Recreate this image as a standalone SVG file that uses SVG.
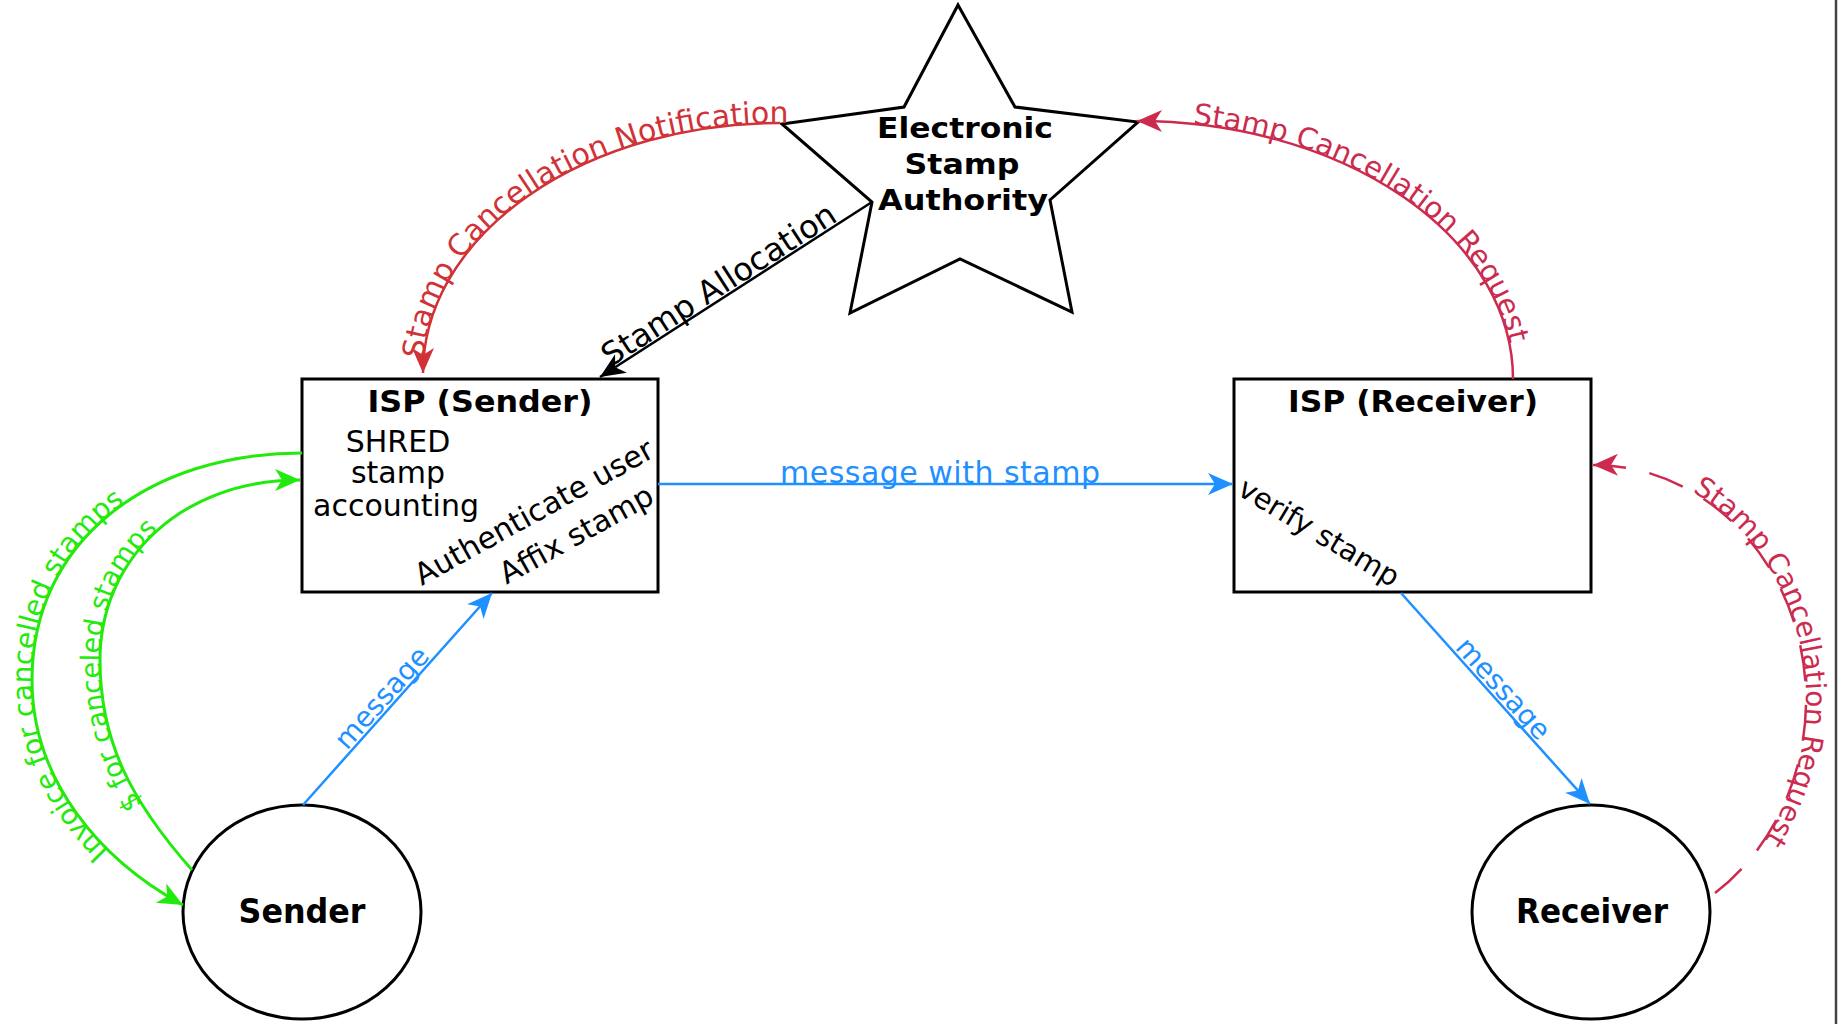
<svg xmlns="http://www.w3.org/2000/svg" width="1843" height="1024" viewBox="0 0 1843 1024">
<style>
.node{fill:#fff;stroke:#000;stroke-width:3}
.bold{font-family:"DejaVu Sans","Liberation Sans",sans-serif;font-weight:bold;fill:#000}
.reg{font-family:"DejaVu Sans","Liberation Sans",sans-serif;fill:#000}
.conn{fill:none;stroke-width:2.5}
.blue{stroke:#1E90FF}
.blk{stroke:#000}
.red1{stroke:#D03238}
.red2{stroke:#CC2B4E}
.grn{stroke:#22EA0C;stroke-width:3}
.tblue{fill:#1E90FF}
.tred1{fill:#D03238}
.tred2{fill:#CC2B4E}
.tgrn{fill:#22EA0C}
</style>
<defs>
<marker id="aBlue" markerUnits="userSpaceOnUse" orient="auto" markerWidth="1" markerHeight="1" refX="0" refY="0" overflow="visible"><path d="M0,0 L-25,-11 L-18,0 L-25,11 Z" fill="#1E90FF"/></marker>
<marker id="aBlk" markerUnits="userSpaceOnUse" orient="auto" markerWidth="1" markerHeight="1" refX="0" refY="0" overflow="visible"><path d="M0,0 L-25,-11 L-18,0 L-25,11 Z" fill="#000"/></marker>
<marker id="aRed1" markerUnits="userSpaceOnUse" orient="auto" markerWidth="1" markerHeight="1" refX="0" refY="0" overflow="visible"><path d="M0,0 L-25,-11 L-18,0 L-25,11 Z" fill="#D03238"/></marker>
<marker id="aRed2" markerUnits="userSpaceOnUse" orient="auto" markerWidth="1" markerHeight="1" refX="0" refY="0" overflow="visible"><path d="M0,0 L-25,-11 L-18,0 L-25,11 Z" fill="#CC2B4E"/></marker>
<marker id="aGrn" markerUnits="userSpaceOnUse" orient="auto" markerWidth="1" markerHeight="1" refX="0" refY="0" overflow="visible"><path d="M0,0 L-25,-11 L-18,0 L-25,11 Z" fill="#22EA0C"/></marker>
<path id="tpNotif" d="M423,373 A357,250 0 0 1 780,123"/>
<path id="tpReqTop" d="M1137,121 A376,258 0 0 1 1513,379"/>
<path id="tpReqRight" d="M1593,465 A212,235 0 0 1 1715,893"/>
<path id="tpInvoice" d="M183,905 C100,860 32,780 32,680 C32,540 150,453 302,453"/>
<path id="tpDollar" d="M192,870 C130,800 100,740 100,660 C100,560 180,480 300,480"/>
</defs>
<rect width="1843" height="1024" fill="#fff"/>
<line x1="1836" y1="0" x2="1836" y2="1024" stroke="#444" stroke-width="2.5"/>

<g id="esa">
<polygon class="node" stroke-width="2.5" points="958,5 1015,107 1138,122 1050,200 1072,312 960,259 850,313 872,202 782,124 904,107"/>
<text class="bold" font-size="29" text-anchor="middle" x="965" y="138" textLength="176" lengthAdjust="spacingAndGlyphs">Electronic</text>
<text class="bold" font-size="29" text-anchor="middle" x="962" y="174" textLength="115" lengthAdjust="spacingAndGlyphs">Stamp</text>
<text class="bold" font-size="29" text-anchor="middle" x="963" y="210" textLength="170" lengthAdjust="spacingAndGlyphs">Authority</text>
</g>

<g id="isp-sender">
<rect class="node" x="302" y="379" width="356" height="213"/>
<text class="bold" font-size="31" text-anchor="middle" x="480" y="412" textLength="225" lengthAdjust="spacingAndGlyphs">ISP (Sender)</text>
<text class="reg" font-size="30" text-anchor="middle" x="398" y="452">SHRED</text>
<text class="reg" font-size="30" text-anchor="middle" x="398" y="483">stamp</text>
<text class="reg" font-size="30" text-anchor="middle" x="396" y="516">accounting</text>
<text class="reg" font-size="30" text-anchor="end" transform="translate(656,456) rotate(-29)">Authenticate user</text>
<text class="reg" font-size="30" text-anchor="end" transform="translate(656,502) rotate(-29)">Affix stamp</text>
</g>

<g id="isp-receiver">
<rect class="node" x="1234" y="379" width="357" height="213"/>
<text class="bold" font-size="31" text-anchor="middle" x="1413" y="412" textLength="250" lengthAdjust="spacingAndGlyphs">ISP (Receiver)</text>
<text class="reg" font-size="29" transform="translate(1236,494) rotate(31)">verify stamp</text>
</g>

<g id="sender">
<ellipse class="node" cx="302" cy="912" rx="119" ry="107"/>
<text class="bold" font-size="33" text-anchor="middle" x="302" y="923" textLength="127" lengthAdjust="spacingAndGlyphs">Sender</text>
</g>

<g id="receiver">
<ellipse class="node" cx="1591" cy="912" rx="119" ry="107"/>
<text class="bold" font-size="33" text-anchor="middle" x="1592" y="923" textLength="152" lengthAdjust="spacingAndGlyphs">Receiver</text>
</g>

<g id="connectors">
<line class="conn blue" x1="658" y1="484" x2="1233" y2="484" marker-end="url(#aBlue)"/>
<text class="reg tblue" font-size="30" text-anchor="middle" x="940" y="483" textLength="320">message with stamp</text>

<line class="conn blue" x1="303" y1="805" x2="492" y2="593" marker-end="url(#aBlue)"/>
<text class="reg tblue" font-size="28" text-anchor="middle" transform="translate(391,706) rotate(-48.3)" y="-3">message</text>

<line class="conn blue" x1="1401" y1="593" x2="1590" y2="804" marker-end="url(#aBlue)"/>
<text class="reg tblue" font-size="28" text-anchor="middle" transform="translate(1494,697) rotate(48.2)" y="-3">message</text>

<line class="conn blk" x1="872" y1="202" x2="600" y2="377" marker-end="url(#aBlk)"/>
<text class="reg" font-size="32" transform="translate(612,370) rotate(-32.8)" y="-3">Stamp Allocation</text>

<path class="conn red1" d="M780,123 A357,250 0 0 0 423,373" marker-end="url(#aRed1)"/>
<text class="reg tred1" font-size="30"><textPath href="#tpNotif" startOffset="14">Stamp Cancellation Notification</textPath></text>

<path class="conn red2" d="M1513,379 A376,258 0 0 0 1137,121" marker-end="url(#aRed2)"/>
<text class="reg tred2" font-size="29"><textPath href="#tpReqTop" startOffset="56">Stamp Cancellation Request</textPath></text>

<path class="conn red2" stroke-dasharray="36 24" d="M1715,893 A212,235 0 0 0 1593,465" marker-end="url(#aRed2)"/>
<text class="reg tred2" font-size="28"><textPath href="#tpReqRight" startOffset="104">Stamp Cancellation Request</textPath></text>

<path class="conn grn" d="M302,453 C150,453 32,540 32,680 C32,780 100,860 183,905" marker-end="url(#aGrn)"/>
<text class="reg tgrn" font-size="28"><textPath href="#tpInvoice" startOffset="92">Invoice for cancelled stamps</textPath></text>

<path class="conn grn" d="M192,870 C130,800 100,740 100,660 C100,560 180,480 300,480" marker-end="url(#aGrn)"/>
<text class="reg tgrn" font-size="27"><textPath href="#tpDollar" startOffset="82">$ for canceled stamps</textPath></text>
</g>
</svg>
